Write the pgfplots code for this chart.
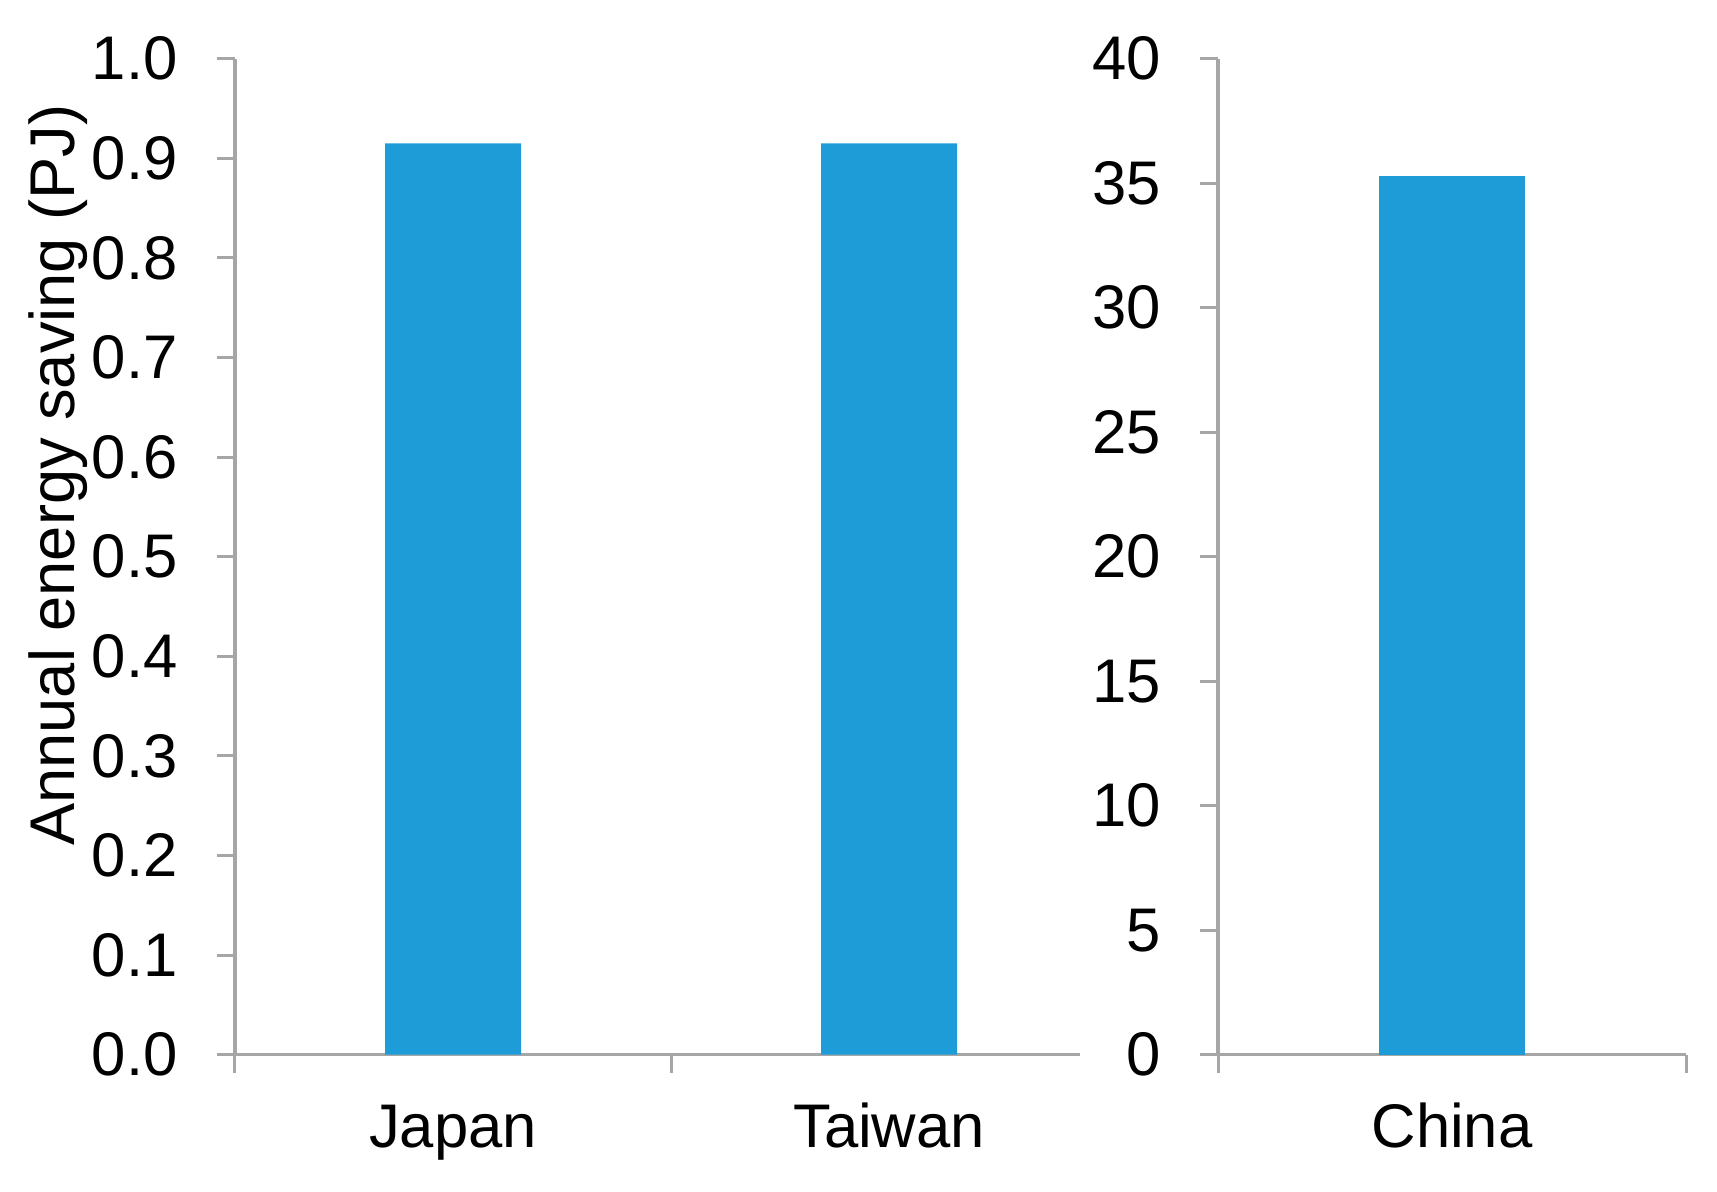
\documentclass[border=0pt]{standalone}
\usepackage{fontspec}
\setmainfont{Liberation Sans}
\usepackage{pgfplots}
\pgfplotsset{compat=1.18}
\definecolor{barblue}{RGB}{29,156,216}
\definecolor{axgray}{RGB}{166,166,166}
\newcommand{\bigfont}{\fontsize{30.8bp}{36bp}\selectfont}
\begin{document}
\begin{tikzpicture}
\useasboundingbox (-117.5bp,-68.65bp) rectangle (741bp,527.35bp);
\pgfplotsset{
  myaxis/.style={
    scale only axis,
    height=498bp,
    ymin=0,
    axis x line*=bottom,
    axis y line*=left,
    axis line style={axgray, line width=1.6bp, -},
    every tick/.style={axgray, line width=1.5bp},
    tick align=outside,
    major tick length=9bp,
    tick label style={font=\bigfont},
    /pgf/number format/assume math mode=true,
    yticklabel style={anchor=east, inner sep=0pt, xshift=-19.5bp},
    xticklabel style={anchor=base, inner sep=0pt},
    xmin=-0.5,
    extra x tick style={major tick length=0pt, xticklabel style={yshift=-46.5bp}},
    xticklabels={},
    ybar, bar shift=0pt,
    clip=false,
  }
}
\begin{axis}[myaxis,
  width=422.5bp,
  xmax=1.438,
  ymax=1,
  ytick={0,0.1,...,1.0},
  yticklabel={\pgfmathprintnumber[fixed,fixed zerofill,precision=1]{\tick}},
  xtick={-0.5,0.5},
  extra x ticks={0,1},
  extra x tick labels={Japan,Taiwan},
  bar width=68bp,
  ylabel={Annual energy saving (PJ)},
  ylabel style={font=\fontsize{31.6bp}{36bp}\selectfont, at={(axis description cs:-0.209,0.582)}, anchor=center},
]
\addplot[fill=barblue, draw=none] coordinates {(0,0.915) (1,0.915)};
\end{axis}
\begin{axis}[myaxis,
  xshift=491.5bp,
  width=234bp,
  xmax=0.5,
  ymax=40,
  ytick={0,5,...,40},
  xtick={-0.5,0.5},
  extra x ticks={0},
  extra x tick labels={China},
  bar width=73bp,
]
\addplot[fill=barblue, draw=none] coordinates {(0,35.3)};
\end{axis}
\end{tikzpicture}
\end{document}
